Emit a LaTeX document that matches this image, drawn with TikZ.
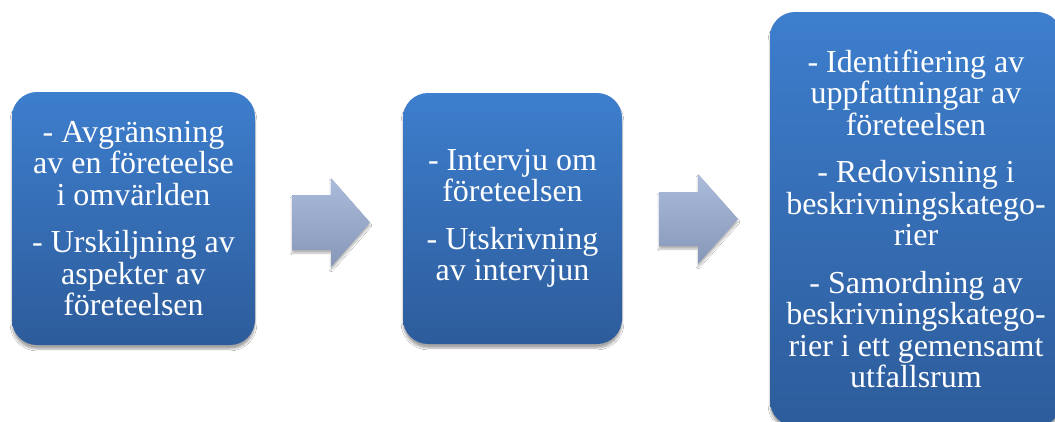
\documentclass[tikz,border=0pt]{standalone}
\usepackage{fontspec}
\setmainfont{Liberation Serif}
\usetikzlibrary{shadows.blur}
\definecolor{boxtop}{HTML}{3D7ECD}
\definecolor{boxbot}{HTML}{2D5C9B}
\definecolor{arrtop}{HTML}{ABBBDC}
\definecolor{arrbot}{HTML}{8797B7}
\tikzset{
  stepbox/.style={rounded corners=25pt, top color=boxtop, bottom color=boxbot,
    text=white, align=center, inner sep=0pt,
    font=\fontsize{32}{31.5}\selectfont,
    blur shadow={shadow xshift=0pt, shadow yshift=-4pt, shadow blur steps=6, shadow opacity=35}},
  arrowshape/.style={top color=arrtop, bottom color=arrbot,
    blur shadow={shadow xshift=0pt, shadow yshift=-3pt, shadow blur steps=5, shadow opacity=30}}
}
\begin{document}
\begin{tikzpicture}[x=1pt,y=-1pt]
\useasboundingbox (0,0) rectangle (1055,421);
\clip (0,0) rectangle (1055,421);
\fill[white] (0,0) rectangle (1055,421);
\node[stepbox, minimum width=243pt, minimum height=253pt] (b1) at (133.5,218.5)
  {- Avgränsning\\av en företeelse\\i omvärlden\\[16pt]- Urskiljning av\\aspekter av\\företeelsen};
\node[stepbox, minimum width=219pt, minimum height=251pt] (b2) at (512.5,218.5)
  {- Intervju om\\företeelsen\\[16pt]- Utskrivning\\av intervjun};
\node[stepbox, minimum width=292pt, minimum height=414pt] (b3) at (916,219)
  {- Identifiering av\\uppfattningar av\\företeelsen\\[16pt]- Redovisning i\\beskrivningskatego-\\rier\\[16pt]- Samordning av\\beskrivningskatego-\\rier i ett gemensamt\\utfallsrum};
\path[arrowshape] (292,195) -- (331,195) -- (331,178) -- (370,222.5) -- (331,267) -- (331,250) -- (292,250) -- cycle;
\path[arrowshape] (659,192) -- (698,192) -- (698,174) -- (738,219) -- (698,264) -- (698,246) -- (659,246) -- cycle;
\end{tikzpicture}
\end{document}
